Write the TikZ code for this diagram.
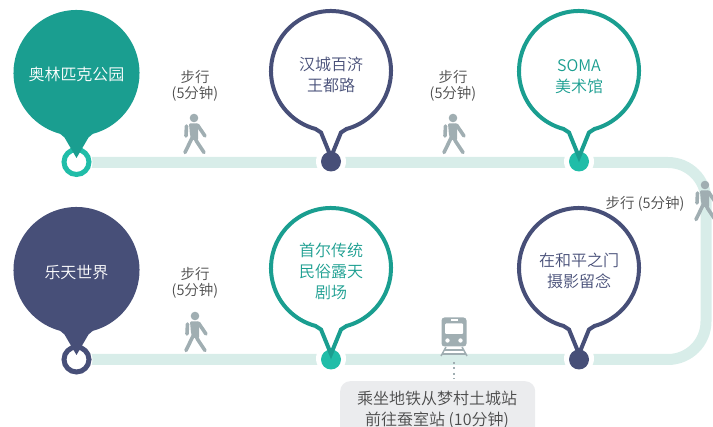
\documentclass[tikz,border=0pt]{standalone}
\usepackage{fontspec}
\setmainfont{Noto Sans CJK SC}[UprightFont=* DemiLight]
\definecolor{teal1}{HTML}{1A9E90}
\definecolor{teal2}{HTML}{20BDA8}
\definecolor{navy1}{HTML}{474F78}
\definecolor{trackc}{HTML}{D8EDE9}
\definecolor{iconc}{HTML}{A0AEB2}
\definecolor{txt}{HTML}{4A4A4A}
\definecolor{boxc}{HTML}{EBECEE}
\tikzset{
  x=1pt,y=-1pt,
  track/.style={draw=trackc,line width=11pt},
  lbl/.style={font=\fontsize{16}{21}\selectfont,align=center,inner sep=0pt},
  walklbl/.style={font=\fontsize{14.5}{16}\selectfont,align=center,inner sep=0pt,text=txt},
  limb/.style={draw=iconc,line width=3.6pt,line cap=round,line join=round},
  pics/walker/.style={code={
    \fill[iconc] (0,-17) circle (4.3);
    \fill[iconc,rounded corners=1pt] (-5,-11.5) -- (4,-11.5) -- (4,5) -- (-2,5) -- (-4,0) -- cycle;
    \path[limb] (-7.5,-9) -- (-8,1);
    \path[limb] (3.5,-10) -- (11,1);
    \path[limb] (-1.5,2) -- (-9,17.5);
    \path[limb] (0.5,2) -- (3,7) -- (10,17.5);
  }}
}
% #1 cx, #2 cy, #3 r, #4 tip y, #5 base half width, #6 draw options
\newcommand{\bubblepath}[6]{%
  \path[#6] (#1,#2) ++(75:#3) arc[start angle=75,end angle=-255,radius=#3]
     -- (#1-#5,#2+#3+1.5) -- (#1,#4) -- (#1+#5,#2+#3+1.5) -- cycle;}
\begin{document}
\begin{tikzpicture}
\useasboundingbox (0,0) rectangle (713,427);
% anchors
\coordinate (a1) at (76.5,162.5);
\coordinate (a2) at (331,162.5);
\coordinate (a3) at (579,162.5);
\coordinate (b1) at (76.5,359.5);
\coordinate (b2) at (331,359.5);
\coordinate (b3) at (579,359.5);
% tracks
\draw[track] (a1) -- (a3) -- (668,162.5) arc[start angle=-90,end angle=0,radius=38] -- (706,321.5) arc[start angle=0,end angle=90,radius=38] -- (b3) -- (b1);
% dots with halo
\foreach \p in {a2,a3,b2,b3}{\fill[white] (\p) ++(0,-1) circle (15);}
\fill[white] (a1) circle (16);
\fill[white] (b1) circle (16);
\draw[teal2,line width=5pt,fill=white] (76.5,162) circle (12.5);
\draw[navy1,line width=5pt,fill=white] (76.5,359.5) circle (12.5);
\fill[navy1] (331,161.5) circle (10);
\fill[teal2] (579,161.5) circle (10);
\fill[teal2] (331,359.5) circle (10);
\fill[navy1] (579,359.5) circle (10);
% bubbles
\bubblepath{76.5}{73}{63}{158}{12}{fill=teal1}
\bubblepath{76.5}{270}{63}{355}{12}{fill=navy1}
\bubblepath{331}{71}{60}{157}{10}{draw=navy1,line width=4pt,fill=white,line join=miter}
\bubblepath{579}{71}{60}{157}{10}{draw=teal1,line width=4pt,fill=white,line join=miter}
\bubblepath{331}{268}{60}{354}{10}{draw=teal1,line width=4pt,fill=white,line join=miter}
\bubblepath{579}{268}{60}{354}{10}{draw=navy1,line width=4pt,fill=white,line join=miter}
% bubble labels
\node[lbl,text=white] (n1) at (76.5,74.5) {奥林匹克公园};
\node[lbl,text=navy1] (n2) at (331,74.5) {汉城百济\\王都路};
\node[lbl,text=teal1] (n3) at (579,77) {SOMA\\美术馆};
\node[lbl,text=white] (n4) at (76.5,272.5) {乐天世界};
\node[lbl,text=teal1] (n5) at (331,271) {首尔传统\\民俗露天\\剧场};
\node[lbl,text=navy1] (n6) at (579,271) {在和平之门\\摄影留念};
% walk labels
\node[walklbl] (w1) at (195,85.5) {步行\\(5分钟)};
\node[walklbl] (w2) at (453,85.5) {步行\\(5分钟)};
\node[walklbl] (w3) at (645,203.5) {步行 (5分钟)};
\node[walklbl] (w4) at (195,283) {步行\\(5分钟)};
% walkers
\pic at (194,135) {walker};
\pic at (453,135) {walker};
\pic at (705,202) {walker};
\pic at (195,333) {walker};
% train
\fill[iconc,rounded corners=3pt] (441.5,317.5) rectangle (466.5,346.5);
\fill[white,rounded corners=1pt] (445,323.5) rectangle (463,334);
\fill[white] (450.5,319.5) rectangle (457.5,321.5);
\fill[white] (447.5,340.5) circle (2.2);
\fill[white] (460.5,340.5) circle (2.2);
\draw[iconc,line width=1.5pt] (446,347) -- (441,356);
\draw[iconc,line width=1.5pt] (462,347) -- (467,356);
\draw[iconc,line width=1.4pt] (444,350) -- (464,350);
\draw[iconc,line width=1.4pt] (442,354) -- (466,354);
% note
\coordinate (dot1) at (454,362);
\begin{scope}
\clip (0,0) rectangle (713,427);
\node[fill=boxc,rounded corners=10pt,minimum width=195pt,minimum height=60pt,anchor=north west,inner sep=0pt] (notebox) at (340,381) {};
\end{scope}
\node[lbl,text=txt] (note) at (437,409.5) {乘坐地铁从梦村土城站\\前往蚕室站 (10分钟)};
\draw[iconc,line width=2pt,dash pattern=on 2pt off 3.4pt,shorten >=1.5pt] (dot1) -- (notebox.north -| dot1);
\end{tikzpicture}
\end{document}
